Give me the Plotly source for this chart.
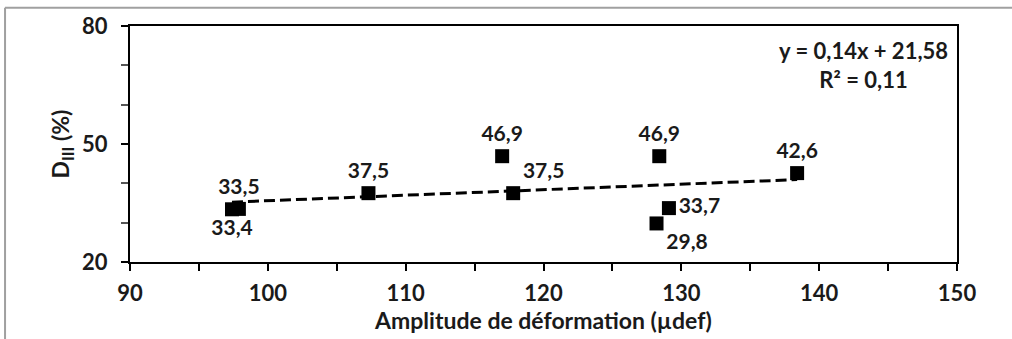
"""
Scatter of D_III against strain amplitude, with linear trendline.
"""
import plotly.graph_objects as go

# data
amplitude = [97.4, 97.9, 107.3, 117.0, 117.8, 128.4, 129.1, 128.2, 138.4]
d3 = [33.4, 33.5, 37.5, 46.9, 37.5, 46.9, 33.7, 29.8, 42.6]
label_pos = ["bottom center", "top center", "top center", "top center", "top right",
             "top center", "middle right", "bottom right", "top center"]

# trendline as printed on the chart
slope = 0.14
intercept = 21.58
r2 = 0.11

FONT = "Lato"
INK = "#1a1a1a"


def fr(v, nd=1):
    # french decimal comma
    return f"{v:.{nd}f}".replace(".", ",")


labels = [fr(v) for v in d3]

trend_x = [min(amplitude), max(amplitude)]
trend_y = [slope * x + intercept for x in trend_x]

fig = go.Figure()

fig.add_trace(go.Scatter(
    x=trend_x, y=trend_y, mode="lines",
    line=dict(color="black", width=3, dash="11px,5px"),
    hoverinfo="skip", showlegend=False,
))

fig.add_trace(go.Scatter(
    x=amplitude, y=d3, mode="markers+text",
    marker=dict(symbol="square", size=14, color="black"),
    text=labels, textposition=label_pos,
    textfont=dict(family=FONT, size=21, color=INK, weight="bold"),
    showlegend=False,
))

eq_text = f"y = {fr(slope, 2)}x + {fr(intercept, 2)}<br>R² = {fr(r2, 2)}"
fig.add_annotation(
    xref="paper", yref="paper", x=0.8875, y=0.835,
    xanchor="center", yanchor="middle",
    text=eq_text, showarrow=False, align="center",
    font=dict(family=FONT, size=22, color=INK, weight="bold"),
)

# grey frame around the picture (left and top edges only)
frame = dict(color="#a0a0a0", width=2)
fig.add_shape(type="line", xref="paper", yref="paper",
              x0=-0.1511, x1=-0.1511, y0=1.077, y1=-0.33, line=frame)
fig.add_shape(type="line", xref="paper", yref="paper",
              x0=-0.1511, x1=1.07, y0=1.077, y1=1.077, line=frame)

axis_common = dict(
    showline=True, linecolor="black", linewidth=2, mirror=True,
    ticks="outside", ticklen=7, tickwidth=2, tickcolor="black",
    showgrid=False, zeroline=False,
    tickfont=dict(family=FONT, size=22, color=INK, weight="bold"),
)

fig.update_xaxes(
    range=[90, 150], tickvals=[90, 100, 110, 120, 130, 140, 150],
    minor=dict(dtick=5, ticks="outside", ticklen=7, tickwidth=2, tickcolor="black"),
    ticklabelstandoff=4,
    title=dict(text="Amplitude de déformation (µdef)", standoff=3,
               font=dict(family=FONT, size=23, color=INK, weight="bold")),
    **axis_common,
)
fig.update_yaxes(
    range=[20, 80], tickvals=[20, 50, 80],
    minor=dict(tickvals=[30, 40, 60, 70], ticks="outside", ticklen=7, tickwidth=1.5,
               tickcolor="#555"),
    ticklabelstandoff=9,
    title=dict(text="D<sub>III</sub> (%)", standoff=6,
               font=dict(family=FONT, size=23, color=INK, weight="bold")),
    **axis_common,
)

fig.update_layout(
    width=1012, height=339,
    margin=dict(l=130, r=55, t=22, b=77),
    plot_bgcolor="white", paper_bgcolor="white",
    font=dict(family=FONT, color=INK),
)

# drop the default page margin so the figure sits at the window corner
fig.write_html("out.html", config={"displayModeBar": False},
               post_script="document.body.style.margin='0';")
